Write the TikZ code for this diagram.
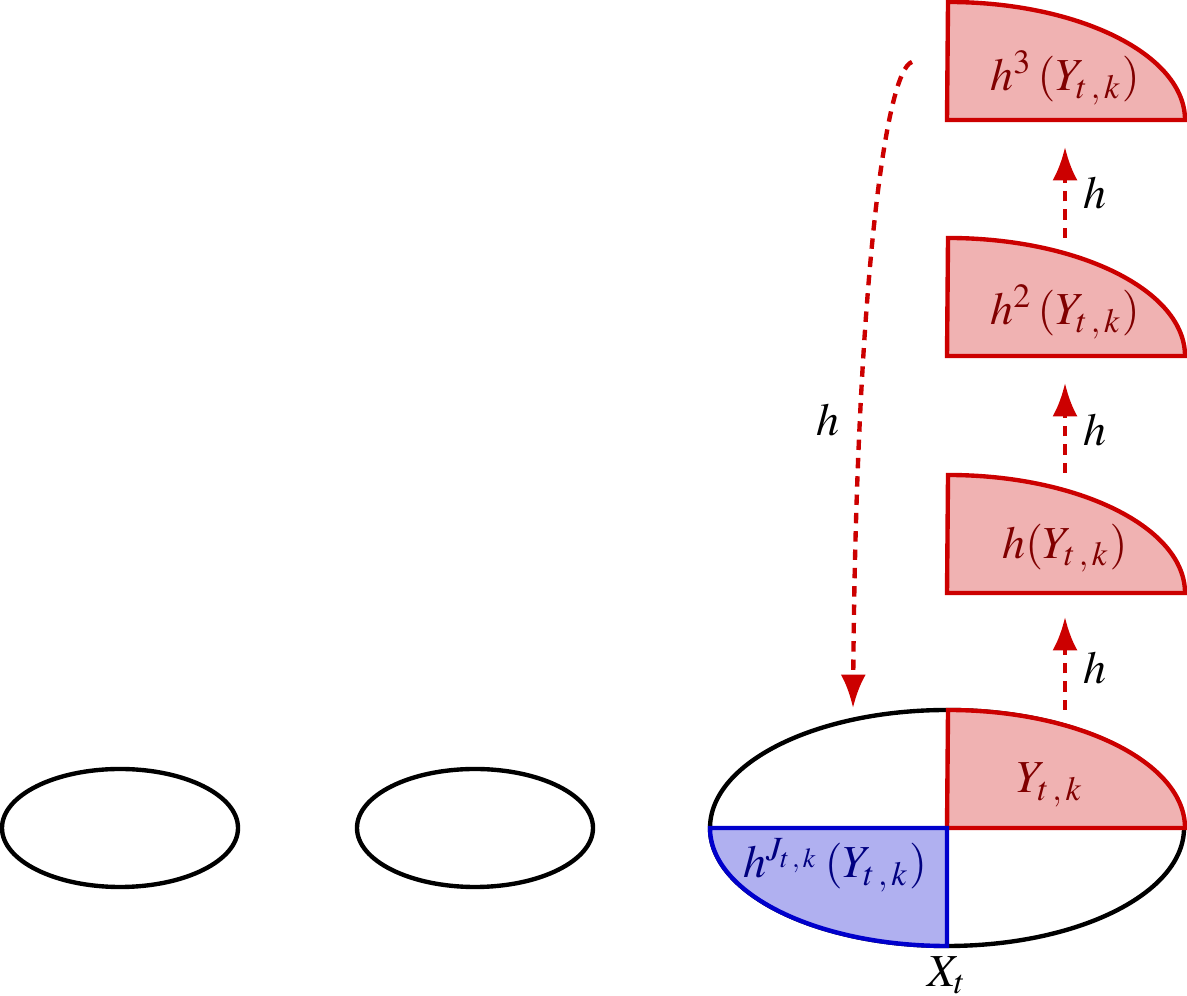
\documentclass[tikz,border=0pt]{standalone}
\usepackage{mathptmx}
\usetikzlibrary{arrows.meta}
\definecolor{rstroke}{HTML}{CC0000}
\definecolor{rfill}{HTML}{F0B2B2}
\definecolor{rtext}{HTML}{800000}
\definecolor{bstroke}{HTML}{0000CC}
\definecolor{bfill}{HTML}{B0B0F0}
\definecolor{btext}{HTML}{000080}
\newcommand{\tk}{t\mkern2mu,\mkern2mu k}
\tikzset{
  outline/.style={draw=black, line width=1.05pt},
  redpart/.style={draw=rstroke, fill=rfill, line width=1.05pt},
  bluepart/.style={draw=bstroke, fill=bfill, line width=1.05pt},
  maparrow/.style={draw=rstroke, line width=1.05pt, dash pattern=on 2.5pt off 1.9pt, -{Latex[length=8pt,width=6pt]}},
  lbl/.style={inner sep=0pt, font=\fontsize{11}{13}\selectfont},
  redlabel/.style={lbl, text=rtext},
  bluelabel/.style={lbl, text=btext},
  hlabel/.style={lbl}
}
\begin{document}
\begin{tikzpicture}[x=0.24pt,y=0.24pt]
\useasboundingbox (0,0) rectangle (1187,996);
% small ellipses
\draw[outline] (120,168) ellipse [x radius=118, y radius=59];
\draw[outline] (475,168) ellipse [x radius=118, y radius=59];
% big ellipse
\draw[outline] (947,168) ellipse [x radius=237, y radius=118];
% red quarter Y
\filldraw[redpart] (947,168) -- (1185,168) arc[start angle=0, end angle=90, x radius=237, y radius=118] -- cycle;
% blue quarter
\filldraw[bluepart] (947,168) -- (710,168) arc[start angle=180, end angle=270, x radius=237, y radius=118] -- cycle;
% stacked quarters
\filldraw[redpart] (947,403) -- (1185,403) arc[start angle=0, end angle=90, x radius=237, y radius=118] -- cycle;
\filldraw[redpart] (947,640) -- (1185,640) arc[start angle=0, end angle=90, x radius=237, y radius=118] -- cycle;
\filldraw[redpart] (947,876) -- (1185,876) arc[start angle=0, end angle=90, x radius=237, y radius=118] -- cycle;
% labels
\node[redlabel] (y0) at (1050,211) {$Y_{\tk}$};
\node[redlabel] (y1) at (1065,448) {$h(Y_{\tk})$};
\node[redlabel] (y2) at (1065,684) {$h^2\mkern2mu(Y_{\tk})$};
\node[redlabel] (y3) at (1065,918) {$h^3\mkern2mu(Y_{\tk})$};
\node[bluelabel] (yj) at (835,131) {$h^{J_{\tk}}\mkern2mu(Y_{\tk})$};
\node[hlabel] (xt) at (947,21) {$X_t$};
% arrow endpoints
\coordinate (a0s) at (1065,286);
\coordinate (a0e) at (1065,379);
\coordinate (a1s) at (1065,523);
\coordinate (a1e) at (1065,613);
\coordinate (a2s) at (1065,758);
\coordinate (a2e) at (1065,849);
\coordinate (cs) at (912,934);
\coordinate (ce) at (853,288);
\draw[maparrow] (a0s) -- (a0e);
\draw[maparrow] (a1s) -- (a1e);
\draw[maparrow] (a2s) -- (a2e);
\draw[maparrow] (cs) .. controls (885,926) and (856,700) .. (ce);
\node[hlabel] (h0) at (1095,328) {$h$};
\node[hlabel] (h1) at (1095,566) {$h$};
\node[hlabel] (h2) at (1095,803) {$h$};
\node[hlabel] (h3) at (828,576) {$h$};
\end{tikzpicture}
\end{document}
